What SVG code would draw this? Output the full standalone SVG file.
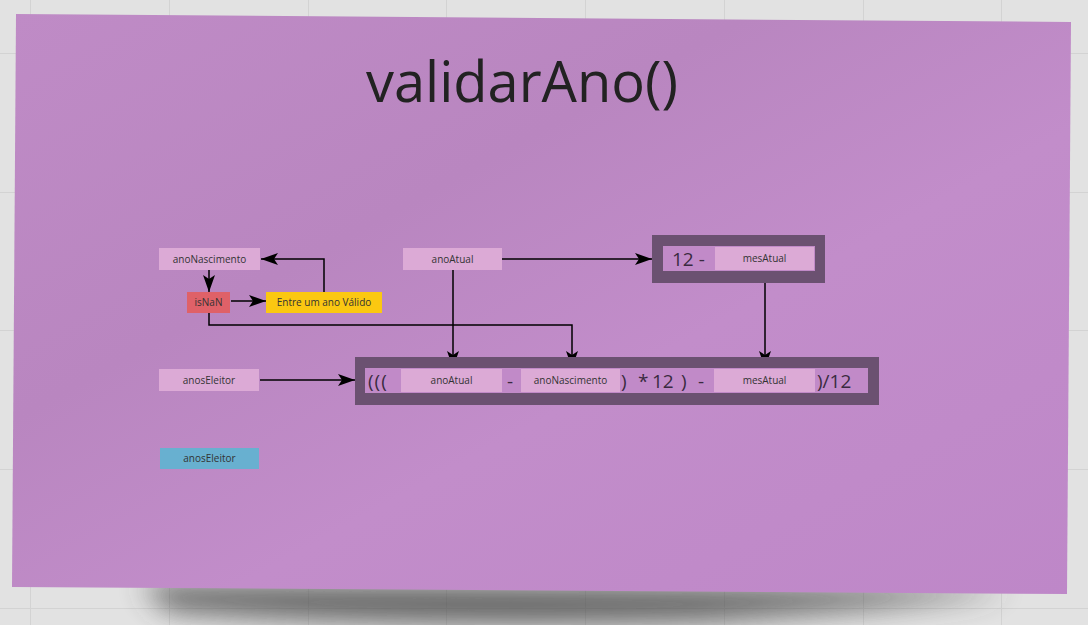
<svg xmlns="http://www.w3.org/2000/svg" width="1088" height="625" viewBox="0 0 1088 625">
<defs>
<style>
.grid{stroke:#d3d3d3;stroke-width:1}
.box{fill:#dcaad6}
.lbl{font-family:"Open Sans","Noto Sans",sans-serif;font-size:10px;fill:#333;text-anchor:middle}
.big{font-family:"Open Sans","Noto Sans",sans-serif;font-size:19px;fill:#3a2a40}
.con{fill:none;stroke:#000;stroke-width:1.5}
.outer{fill:#6b5171}
.inner{fill:#c18ac8}
</style>
<linearGradient id="note" x1="0" y1="0" x2="1" y2="1">
<stop offset="0" stop-color="#bf8bc6"/>
<stop offset="0.35" stop-color="#b986c0"/>
<stop offset="0.6" stop-color="#c28dca"/>
<stop offset="1" stop-color="#be87c8"/>
</linearGradient>
<filter id="blur" x="-20%" y="-100%" width="140%" height="300%"><feGaussianBlur stdDeviation="14"/></filter>
<marker id="arr" markerWidth="17" markerHeight="12" refX="17" refY="6" orient="auto" markerUnits="userSpaceOnUse">
<path d="M0,0 L17,6 L0,12 L4,6 Z" fill="#000"/>
</marker>
</defs>
<rect width="1088" height="625" fill="#e2e2e2"/>
<g class="grid">
<line x1="30.5" y1="0" x2="30.5" y2="625"/><line x1="169.5" y1="0" x2="169.5" y2="625"/><line x1="308.5" y1="0" x2="308.5" y2="625"/><line x1="446.5" y1="0" x2="446.5" y2="625"/><line x1="585.5" y1="0" x2="585.5" y2="625"/><line x1="724.5" y1="0" x2="724.5" y2="625"/><line x1="863.5" y1="0" x2="863.5" y2="625"/><line x1="1001.5" y1="0" x2="1001.5" y2="625"/>
<line x1="0" y1="53.5" x2="1088" y2="53.5"/><line x1="0" y1="192.5" x2="1088" y2="192.5"/><line x1="0" y1="330.5" x2="1088" y2="330.5"/><line x1="0" y1="469.5" x2="1088" y2="469.5"/><line x1="0" y1="608.5" x2="1088" y2="608.5"/>
</g>
<path d="M140,585 L1010,590 Q930,605 700,620 Q400,628 170,610 Z" fill="#444" opacity="0.85" filter="url(#blur)"/>
<polygon points="16,14 1071,22 1067,594 12,587" fill="url(#note)"/>
<text x="522" y="102" font-family="'Open Sans','Noto Sans',sans-serif" font-size="56" fill="#222" text-anchor="middle">validarAno()</text>

<g id="connectors">
<path class="con" d="M209,270 V292" marker-end="url(#arr)"/>
<path class="con" d="M231,301 H266" marker-end="url(#arr)"/>
<path class="con" d="M324,292 V259 H261" marker-end="url(#arr)"/>
<path class="con" d="M209,313 V325 H572 V368" marker-end="url(#arr)"/>
<path class="con" d="M453,270 V368" marker-end="url(#arr)"/>
<path class="con" d="M502,259 H652" marker-end="url(#arr)"/>
<path class="con" d="M765,270 V368" marker-end="url(#arr)"/>
<path class="con" d="M260,380 H355" marker-end="url(#arr)"/>
</g>

<g id="anoNascimento"><rect class="box" x="159" y="248" width="101" height="22"/><text class="lbl" x="209.5" y="262.5">anoNascimento</text></g>
<g id="isNaN"><rect x="187" y="292" width="43" height="21" fill="#df6168"/><text class="lbl" x="208.5" y="306">isNaN</text></g>
<g id="entre"><rect x="266" y="292" width="116" height="21" fill="#fbc811"/><text class="lbl" x="324" y="306">Entre um ano Válido</text></g>
<g id="anoAtual"><rect class="box" x="403" y="248" width="99" height="22"/><text class="lbl" x="452.5" y="262.5">anoAtual</text></g>
<g id="mesRestantes">
<rect class="outer" x="652" y="235" width="173" height="48"/>
<rect class="inner" x="663" y="246" width="152" height="25"/>
<text class="big" x="672" y="266">12 -</text>
<rect class="box" x="715" y="247" width="99" height="23"/><text class="lbl" x="764.5" y="262">mesAtual</text>
</g>
<g id="anosEleitorInput"><rect class="box" x="159" y="369" width="100" height="22"/><text class="lbl" x="209" y="383.5">anosEleitor</text></g>
<g id="formula">
<rect class="outer" x="355" y="357" width="524" height="48"/>
<rect class="inner" x="365" y="368" width="503" height="25"/>
<text class="big" x="368" y="388" letter-spacing="1">(((</text>
<rect class="box" x="401" y="369" width="101" height="23"/><text class="lbl" x="451.5" y="384">anoAtual</text>
<text class="big" x="507" y="388">-</text>
<rect class="box" x="521" y="369" width="99" height="23"/><text class="lbl" x="570.5" y="384">anoNascimento</text>
<text class="big" x="621" y="388">)</text>
<text class="big" x="638" y="388">*</text>
<text class="big" x="652" y="388">12</text>
<text class="big" x="681" y="388">)</text>
<text class="big" x="698" y="388">-</text>
<rect class="box" x="714" y="369" width="101" height="23"/><text class="lbl" x="764.5" y="384">mesAtual</text>
<text class="big" x="817" y="388">)/12</text>
</g>
<g id="anosEleitor"><rect x="160" y="448" width="99" height="21" fill="#68b0d0"/><text class="lbl" x="209.5" y="462">anosEleitor</text></g>
</svg>
